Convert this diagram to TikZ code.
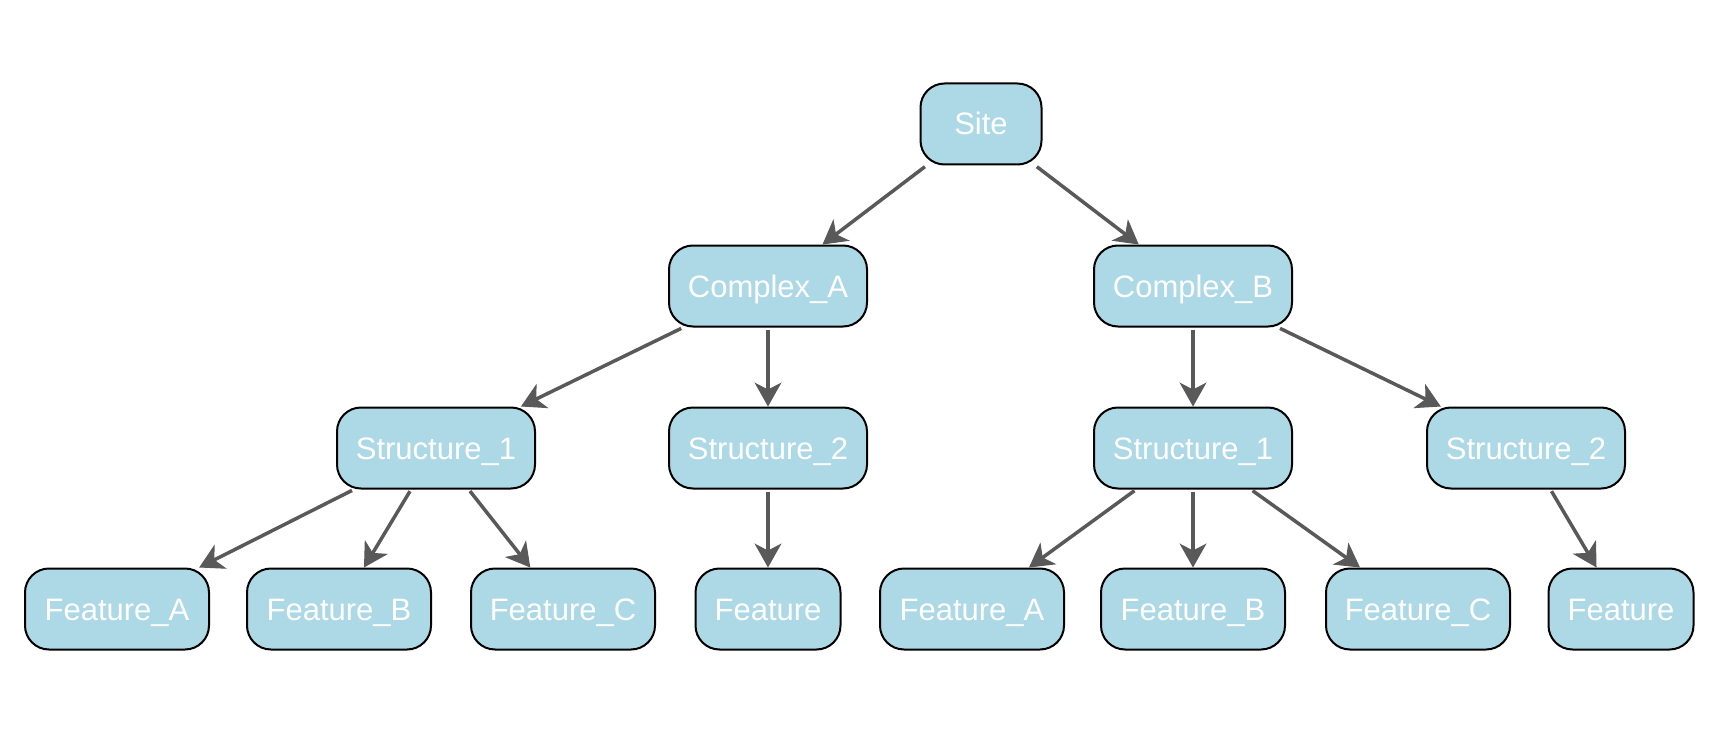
\documentclass[tikz,border=0pt]{standalone}
\usepackage{fontspec}
\setmainfont{Liberation Sans}
\usetikzlibrary{arrows.meta}
\definecolor{nodefill}{HTML}{ADD8E6}
\definecolor{edgegray}{HTML}{595959}
\begin{document}
\begin{tikzpicture}[x=1pt,y=-1pt,
  box/.style={draw=black, line width=2pt, fill=nodefill, rounded corners=24pt,
    minimum height=81pt, inner sep=0pt, text=white,
    text height=22pt, text depth=0pt,
    font=\fontsize{31}{37}\selectfont},
  sitebox/.style={box, minimum width=121pt},
  midbox/.style={box, minimum width=198pt},
  featbox/.style={box, minimum width=184pt},
  smallbox/.style={box, minimum width=145pt},
  link/.style={draw=edgegray, line width=3.5pt, shorten <=2pt,
    -{Stealth[length=24pt, width=27pt, inset=7pt, line width=1pt]}}
]
\useasboundingbox (0,0) rectangle (1719,733);

% root
\node[sitebox] (site) at (981,124) {Site};

% complexes
\node[midbox] (ca) at (768,286) {Complex\_A};
\node[midbox] (cb) at (1193,286) {Complex\_B};

% structures
\node[midbox] (sa1) at (436,448) {Structure\_1};
\node[midbox] (sa2) at (768,448) {Structure\_2};
\node[midbox] (sb1) at (1193,448) {Structure\_1};
\node[midbox] (sb2) at (1526,448) {Structure\_2};

% features
\node[featbox] (fa1) at (117,609) {Feature\_A};
\node[featbox] (fb1) at (339,609) {Feature\_B};
\node[featbox] (fc1) at (563,609) {Feature\_C};
\node[smallbox] (f1) at (768,609) {Feature};
\node[featbox] (fa2) at (972,609) {Feature\_A};
\node[featbox] (fb2) at (1193,609) {Feature\_B};
\node[featbox] (fc2) at (1418,609) {Feature\_C};
\node[smallbox] (f2) at (1621,609) {Feature};

% connectors
\path[link] (site) -- (ca);
\path[link] (site) -- (cb);
\path[link] (ca) -- (sa1);
\path[link] (ca) -- (sa2);
\path[link] (cb) -- (sb1);
\path[link] (cb) -- (sb2);
\path[link] (sa1) -- (fa1);
\path[link] (sa1) -- (fb1);
\path[link] (sa1) -- (fc1);
\path[link] (sa2) -- (f1);
\path[link] (sb1) -- (fa2);
\path[link] (sb1) -- (fb2);
\path[link] (sb1) -- (fc2);
\path[link] (sb2) -- (f2);
\end{tikzpicture}
\end{document}
